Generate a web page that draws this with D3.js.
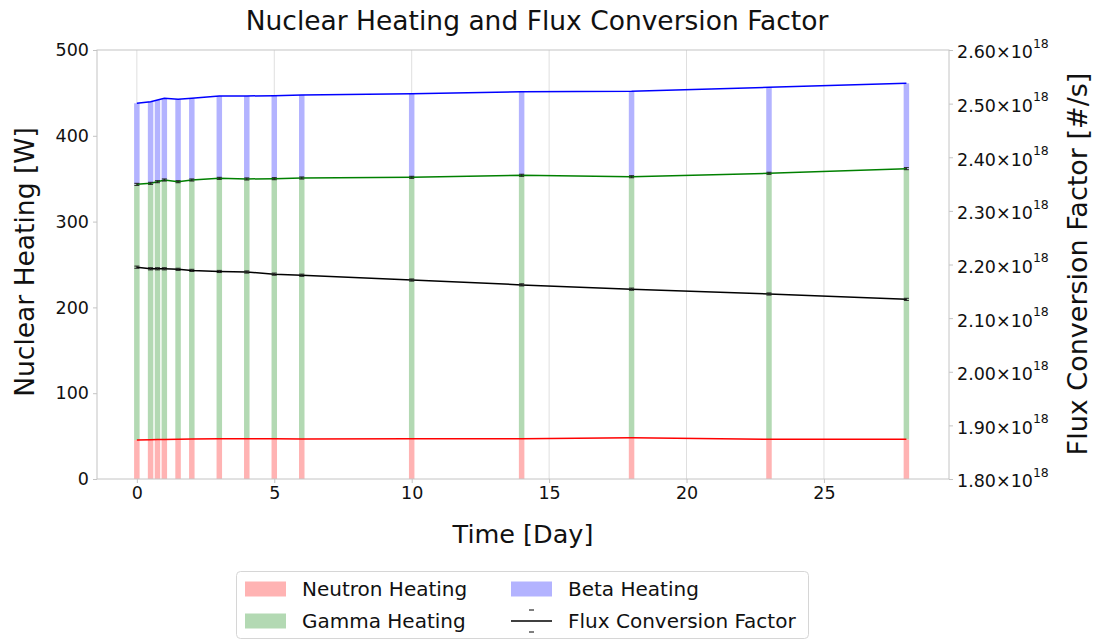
<!DOCTYPE html>
<html>
<head>
<meta charset="utf-8">
<script src="https://cdn.jsdelivr.net/npm/d3@7"></script>
<style>
  body { margin: 0; background: #fff; }
  text { font-family: "DejaVu Sans", sans-serif; }
</style>
</head>
<body>
<div id="chart"></div>
<script>
// data
var days = [0, 0.5, 0.75, 1, 1.5, 2, 3, 4, 5, 6, 10, 14, 18, 23, 28];
var neutron = [45.5, 45.8, 46, 46, 46.3, 46.5, 47, 46.8, 46.8, 46.5, 47, 47, 48, 46.2, 46.3];
var gamma = [297.9, 298.8, 300.5, 302.5, 300.2, 302, 303.4, 302.9, 303.2, 304.3, 304.6, 307, 304.3, 310.1, 315.4];
var beta = [94.5, 95.1, 95.2, 95.2, 96, 95.2, 96, 96.7, 96.8, 96.8, 97.4, 97.4, 99.5, 100.2, 99.5];
var gammaErr = [1.2, 1.2, 1.2, 1.2, 1.2, 1.2, 1.2, 1.2, 1.2, 1.2, 1.2, 1.2, 1.2, 1.2, 1.2];
var flux = [2.195e18, 2.192e18, 2.192e18, 2.192e18, 2.191e18, 2.189e18, 2.187e18, 2.186e18,
            2.182e18, 2.180e18, 2.171e18, 2.162e18, 2.154e18, 2.145e18, 2.135e18];
var fluxErr = [0.002e18, 0.002e18, 0.002e18, 0.002e18, 0.002e18, 0.002e18, 0.002e18, 0.002e18,
               0.002e18, 0.002e18, 0.002e18, 0.002e18, 0.002e18, 0.002e18, 0.002e18];
var leftTicks = [0, 100, 200, 300, 400, 500];
var rightTicks = [1.8e18, 1.9e18, 2.0e18, 2.1e18, 2.2e18, 2.3e18, 2.4e18, 2.5e18, 2.6e18];
var xTicks = [0, 5, 10, 15, 20, 25];

var drawChart = function() {
    const width = 1095, height = 642;
    const left = 97, right = 949, top = 50, bottom = 479;
    const barWidth = 0.2;
    const frameColor = "#c4c4c4";

    var svg = d3.select("#chart").append("svg")
        .attr("width", width)
        .attr("height", height);

    var x = d3.scaleLinear().domain([-1.45, 29.55]).range([left, right]);
    var y = d3.scaleLinear().domain([0, 500]).range([bottom, top]);
    var y2 = d3.scaleLinear().domain([1.8e18, 2.6e18]).range([bottom, top]);

    // vertical grid
    svg.append("g").selectAll("line")
        .data(xTicks)
        .join("line")
        .attr("x1", d => x(d)).attr("x2", d => x(d))
        .attr("y1", top).attr("y2", bottom)
        .attr("stroke", "#b0b0b0")
        .attr("stroke-opacity", 0.4)
        .attr("stroke-width", 1);

    // stacked bars
    var stacks = days.map(function(d, i) {
        return [
            {y0: 0, y1: neutron[i], c: "#ffb3b3"},
            {y0: neutron[i], y1: neutron[i] + gamma[i], c: "#b3d9b3"},
            {y0: neutron[i] + gamma[i], y1: neutron[i] + gamma[i] + beta[i], c: "#b3b3ff"}
        ].map(s => Object.assign({t: d}, s));
    }).flat();

    svg.append("g").selectAll("rect")
        .data(stacks)
        .join("rect")
        .attr("x", d => x(d.t - barWidth / 2))
        .attr("width", x(barWidth) - x(0))
        .attr("y", d => y(d.y1))
        .attr("height", d => y(d.y0) - y(d.y1))
        .attr("fill", d => d.c);

    // lines on the stack tops
    var topLine = function(vals, color) {
        svg.append("path")
            .datum(vals)
            .attr("fill", "none")
            .attr("stroke", color)
            .attr("stroke-width", 1.5)
            .attr("d", d3.line().x((d, i) => x(days[i])).y(d => y(d)));
    };
    topLine(neutron, "#ff0000");
    topLine(neutron.map((d, i) => d + gamma[i]), "#008000");
    topLine(neutron.map((d, i) => d + gamma[i] + beta[i]), "#0000ff");

    // small error caps
    var caps = function(cx, cy0, cy1, g) {
        g.append("line").attr("x1", cx).attr("x2", cx).attr("y1", cy0).attr("y2", cy1)
            .attr("stroke", "#222").attr("stroke-width", 1);
        g.append("line").attr("x1", cx - 2.5).attr("x2", cx + 2.5).attr("y1", cy0).attr("y2", cy0)
            .attr("stroke", "#222").attr("stroke-width", 1);
        g.append("line").attr("x1", cx - 2.5).attr("x2", cx + 2.5).attr("y1", cy1).attr("y2", cy1)
            .attr("stroke", "#222").attr("stroke-width", 1);
    };
    var gErr = svg.append("g");
    days.forEach(function(t, i) {
        var v = neutron[i] + gamma[i];
        caps(x(t), y(v - gammaErr[i]), y(v + gammaErr[i]), gErr);
    });

    // flux conversion factor on right axis
    svg.append("path")
        .datum(flux)
        .attr("fill", "none")
        .attr("stroke", "#000")
        .attr("stroke-width", 1.5)
        .attr("d", d3.line().x((d, i) => x(days[i])).y(d => y2(d)));
    var fErr = svg.append("g");
    days.forEach(function(t, i) {
        caps(x(t), y2(flux[i] - fluxErr[i]), y2(flux[i] + fluxErr[i]), fErr);
    });

    // frame
    svg.append("rect")
        .attr("x", left).attr("y", top)
        .attr("width", right - left).attr("height", bottom - top)
        .attr("fill", "none")
        .attr("stroke", frameColor)
        .attr("stroke-width", 1);

    // axes
    var axL = svg.append("g")
        .attr("transform", `translate(${left},0)`)
        .call(d3.axisLeft(y).tickValues(leftTicks).tickSize(4).tickPadding(4));
    var axB = svg.append("g")
        .attr("transform", `translate(0,${bottom})`)
        .call(d3.axisBottom(x).tickValues(xTicks).tickSize(4).tickPadding(4));
    var axR = svg.append("g")
        .attr("transform", `translate(${right},0)`)
        .call(d3.axisRight(y2).tickValues(rightTicks).tickSize(4).tickPadding(4).tickFormat(""));

    [axL, axB, axR].forEach(function(a) {
        a.select(".domain").remove();
        a.selectAll(".tick line").attr("stroke", frameColor);
        a.selectAll(".tick text")
            .attr("font-family", "DejaVu Sans")
            .attr("font-size", 17.5)
            .attr("fill", "#111");
    });

    axR.selectAll(".tick text")
        .attr("dy", "0.45em")
        .each(function(d) {
            var t = d3.select(this);
            t.append("tspan").text((d / 1e18).toFixed(2) + "×10");
            t.append("tspan").attr("font-size", 12.5).attr("dy", "-0.85em").text("18");
        });

    // titles
    svg.append("text")
        .attr("x", 537).attr("y", 30)
        .attr("text-anchor", "middle")
        .attr("font-size", 26.5)
        .attr("fill", "#111")
        .text("Nuclear Heating and Flux Conversion Factor");

    svg.append("text")
        .attr("x", 523).attr("y", 543)
        .attr("text-anchor", "middle")
        .attr("font-size", 25.5)
        .attr("fill", "#111")
        .text("Time [Day]");

    svg.append("text")
        .attr("transform", "translate(34,262) rotate(-90)")
        .attr("text-anchor", "middle")
        .attr("font-size", 26.5)
        .attr("fill", "#111")
        .text("Nuclear Heating [W]");

    svg.append("text")
        .attr("transform", "translate(1087,264) rotate(-90)")
        .attr("text-anchor", "middle")
        .attr("font-size", 27)
        .attr("fill", "#111")
        .text("Flux Conversion Factor [#/s]");

    // legend
    var lg = svg.append("g");
    lg.append("rect")
        .attr("x", 236.5).attr("y", 571.5)
        .attr("width", 572).attr("height", 67)
        .attr("rx", 4)
        .attr("fill", "#fff")
        .attr("stroke", "#d6d6d6");

    var items = [
        {label: "Neutron Heating", c: "#ffb3b3", px: 245, py: 589},
        {label: "Gamma Heating", c: "#b3d9b3", px: 245, py: 621},
        {label: "Beta Heating", c: "#b3b3ff", px: 511, py: 589},
        {label: "Flux Conversion Factor", c: null, px: 511, py: 621}
    ];
    items.forEach(function(it) {
        if (it.c) {
            lg.append("rect")
                .attr("x", it.px).attr("y", it.py - 7.5)
                .attr("width", 41).attr("height", 15)
                .attr("fill", it.c);
        } else {
            lg.append("line")
                .attr("x1", it.px).attr("x2", it.px + 41)
                .attr("y1", it.py).attr("y2", it.py)
                .attr("stroke", "#000").attr("stroke-width", 1.5);
            [-11, 11].forEach(function(o) {
                lg.append("line")
                    .attr("x1", it.px + 18).attr("x2", it.px + 23)
                    .attr("y1", it.py + o).attr("y2", it.py + o)
                    .attr("stroke", "#000").attr("stroke-width", 1);
            });
        }
        lg.append("text")
            .attr("x", it.px + 57).attr("y", it.py)
            .attr("dy", "0.35em")
            .attr("font-size", 20)
            .attr("fill", "#111")
            .text(it.label);
    });
};

window.addEventListener("load", drawChart);
</script>
</body>
</html>
